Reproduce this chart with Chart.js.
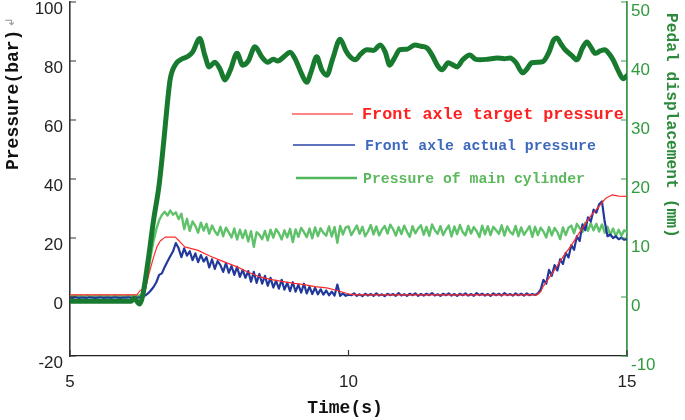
<!DOCTYPE html>
<html>
<head>
<meta charset="utf-8">
<script src="https://cdn.jsdelivr.net/npm/chart.js@4.4.1/dist/chart.umd.min.js"></script>
<style>
  html, body { margin: 0; padding: 0; background: #fff; }
</style>
</head>
<body>
<canvas id="chart" width="685" height="420"></canvas>
<script>
'use strict';

// sampling grid of the two measured pressure traces (s), one row = 0.5 s
const sampleTime = [
  5.00, 5.05, 5.10, 5.15, 5.20, 5.25, 5.30, 5.35, 5.40, 5.45,
  5.50, 5.55, 5.60, 5.65, 5.70, 5.75, 5.80, 5.85, 5.90, 5.95,
  6.00, 6.05, 6.10, 6.15, 6.20, 6.25, 6.30, 6.35, 6.40, 6.45,
  6.50, 6.55, 6.60, 6.65, 6.70, 6.75, 6.80, 6.85, 6.90, 6.95,
  7.00, 7.05, 7.10, 7.15, 7.20, 7.25, 7.30, 7.35, 7.40, 7.45,
  7.50, 7.55, 7.60, 7.65, 7.70, 7.75, 7.80, 7.85, 7.90, 7.95,
  8.00, 8.05, 8.10, 8.15, 8.20, 8.25, 8.30, 8.35, 8.40, 8.45,
  8.50, 8.55, 8.60, 8.65, 8.70, 8.75, 8.80, 8.85, 8.90, 8.95,
  9.00, 9.05, 9.10, 9.15, 9.20, 9.25, 9.30, 9.35, 9.40, 9.45,
  9.50, 9.55, 9.60, 9.65, 9.70, 9.75, 9.80, 9.85, 9.90, 9.95,
  10.00, 10.05, 10.10, 10.15, 10.20, 10.25, 10.30, 10.35, 10.40, 10.45,
  10.50, 10.55, 10.60, 10.65, 10.70, 10.75, 10.80, 10.85, 10.90, 10.95,
  11.00, 11.05, 11.10, 11.15, 11.20, 11.25, 11.30, 11.35, 11.40, 11.45,
  11.50, 11.55, 11.60, 11.65, 11.70, 11.75, 11.80, 11.85, 11.90, 11.95,
  12.00, 12.05, 12.10, 12.15, 12.20, 12.25, 12.30, 12.35, 12.40, 12.45,
  12.50, 12.55, 12.60, 12.65, 12.70, 12.75, 12.80, 12.85, 12.90, 12.95,
  13.00, 13.05, 13.10, 13.15, 13.20, 13.25, 13.30, 13.35, 13.40, 13.45,
  13.50, 13.55, 13.60, 13.65, 13.70, 13.75, 13.80, 13.85, 13.90, 13.95,
  14.00, 14.05, 14.10, 14.15, 14.20, 14.25, 14.30, 14.35, 14.40, 14.45,
  14.50, 14.55, 14.60, 14.65, 14.70, 14.75, 14.80, 14.85, 14.90, 14.95,
  15.00,
];

// front axle actual pressure (bar)
const actualPressure = [
  -0.2, -0.3, -0.1, -0.3, -0.2, -0.2, -0.3, -0.1, -0.2, -0.3,
  -0.2, -0.1, -0.3, -0.2, -0.2, -0.3, -0.1, -0.2, -0.3, -0.2,
  -0.2, -0.1, -0.3, -0.2, -0.2, -0.1, 0.2, 0.5, 1.2, 2.2,
  3.4, 5.0, 7.5, 8.0, 10.2, 12.0, 13.8, 15.5, 18.3, 16.5,
  13.5, 16.5, 14.0, 15.5, 12.5, 14.8, 11.8, 14.2, 12.0, 13.5,
  10.0, 12.8, 9.5, 12.2, 10.8, 8.5, 11.5, 8.2, 10.5, 7.5,
  10.2, 6.8, 9.2, 6.5, 8.8, 5.2, 8.5, 4.8, 7.8, 4.5,
  7.2, 3.8, 6.5, 3.2, 5.5, 2.8, 5.8, 2.5, 4.8, 2.0,
  5.0, 1.8, 4.2, 1.5, 4.5, 1.2, 3.5, 1.0, 3.2, 0.9,
  2.6, 0.8, 2.2, 0.6, 1.8, 0.5, 4.2, 0.4, 1.2, 0.4,
  0.8, 0.6, 1.2, 0.4, 0.9, 0.3, 1.1, 0.5, 1.0, 0.4,
  1.2, 0.5, 0.9, 0.3, 1.1, 0.6, 1.0, 0.4, 1.3, 0.5,
  0.9, 0.4, 1.1, 0.6, 1.2, 0.4, 1.0, 0.5, 1.1, 0.6,
  1.3, 0.5, 0.9, 0.4, 1.1, 0.6, 1.2, 0.5, 1.0, 0.4,
  1.1, 0.6, 1.2, 0.5, 1.0, 0.4, 1.3, 0.6, 1.1, 0.5,
  1.0, 0.4, 1.2, 0.6, 1.1, 0.5, 1.3, 0.6, 1.0, 0.5,
  1.2, 0.6, 1.1, 0.5, 1.2, 0.6, 1.0, 0.7, 1.2, 2.5,
  5.8, 4.5, 9.2, 7.2, 10.8, 9.0, 12.8, 11.2, 15.0, 13.4,
  17.6, 16.0, 20.6, 19.0, 24.6, 22.6, 27.0, 25.6, 29.6, 28.6,
  31.4, 32.4, 25.5, 20.6, 21.2, 20.0, 20.6, 19.6, 20.1, 19.4,
  19.6,
];

// pressure of main cylinder (bar)
const cylinderPressure = [
  0.5, 0.2, 0.6, 0.3, 0.5, 0.1, 0.6, 0.4, 0.2, 0.5,
  0.3, 0.6, 0.2, 0.5, 0.4, 0.1, 0.6, 0.3, 0.5, 0.2,
  0.4, 0.6, 0.3, 0.5, 0.2, 0.6, 1.0, 3.0, 8.0, 14.0,
  19.0, 23.0, 26.0, 27.8, 28.9, 27.6, 29.3, 27.9, 28.7, 26.4,
  28.2, 23.0, 26.5, 22.4, 25.6, 24.1, 21.8, 25.2, 22.5, 24.8,
  21.5, 24.2, 22.3, 21.0, 23.8, 20.6, 23.5, 21.9, 20.2, 23.2,
  19.5, 22.8, 20.0, 22.6, 18.8, 22.3, 17.0, 22.0, 21.1, 19.6,
  22.4, 19.2, 22.8, 20.1, 23.0, 21.6, 19.5, 22.6, 20.2, 23.1,
  18.6, 22.9, 20.4, 23.4, 22.0, 20.3, 23.2, 19.9, 23.6, 20.6,
  23.3, 21.7, 20.8, 23.9, 20.5, 23.7, 18.4, 24.1, 21.2, 23.6,
  23.9, 21.0, 22.6, 24.2, 21.4, 23.8, 20.6, 22.2, 24.4, 21.2,
  23.9, 20.9, 22.8, 24.1, 21.5, 24.5, 23.0, 20.8, 23.7, 21.3,
  24.2, 22.1, 20.4, 24.0, 21.6, 23.2, 24.3, 21.1, 23.8, 20.7,
  24.6, 22.6, 21.4, 24.0, 21.0, 22.8, 24.2, 20.5, 23.9, 21.3,
  24.4, 22.0, 20.9, 24.1, 21.5, 23.7, 22.4, 20.3, 24.2, 21.2,
  24.0, 21.0, 23.8, 22.6, 21.4, 24.3, 20.8, 23.9, 22.1, 21.2,
  24.1, 20.6, 23.6, 21.1, 22.5, 24.0, 20.4, 23.8, 21.0, 23.5,
  22.2, 20.2, 23.7, 20.9, 23.4, 22.0, 19.6, 23.6, 21.0, 23.5,
  24.2, 21.6, 24.8, 23.4, 22.0, 25.2, 22.4, 25.0, 22.6, 24.8,
  22.2, 24.6, 21.8, 23.8, 21.0, 23.2, 20.6, 22.8, 20.8, 22.6,
  22.0,
];

// front axle target pressure (bar)
const targetTime = [
  5.0, 6.2, 6.26, 6.32, 6.36, 6.42, 6.5, 6.56, 6.62, 6.71,
  6.89, 6.97, 7.06, 7.3, 7.5, 7.69, 7.85, 8.0, 8.2, 8.41,
  8.6, 8.8, 9.0, 9.2, 9.4, 9.61, 9.8, 10.0, 10.15, 13.38,
  13.45, 13.49, 13.6, 13.7, 13.85, 14.0, 14.21, 14.35, 14.52, 14.62,
  14.73, 14.85, 15.0,
];
const targetPressure = [
  0.7, 0.7, 2.2, 2.8, 3, 8, 13.5, 17, 19, 20.3,
  20.3, 18.8, 17, 15.8, 14, 12.5, 11.3, 10.2, 8.4, 6.8,
  6, 5.3, 4.7, 4.2, 3.5, 3.1, 2.2, 1.0, 0.7, 0.7,
  1.8, 3.4, 6.5, 9.2, 13.6, 17.5, 23.7, 27.5, 31.2, 33.5,
  34.6, 34.2, 34.1,
];

// pedal displacement (mm), right axis
const pedalTime = [
  5.0, 6.1, 6.15, 6.25, 6.3, 6.4, 6.5, 6.6, 6.7, 6.75,
  6.8, 6.9, 7.0, 7.12, 7.2, 7.33, 7.42, 7.5, 7.6, 7.7,
  7.78, 7.88, 8.0, 8.1, 8.2, 8.32, 8.45, 8.55, 8.65, 8.73,
  8.85, 8.95, 9.05, 9.15, 9.25, 9.33, 9.43, 9.52, 9.61, 9.72,
  9.85, 9.95, 10.03, 10.12, 10.22, 10.33, 10.45, 10.57, 10.66, 10.74,
  10.82, 10.92, 11.05, 11.19, 11.3, 11.41, 11.5, 11.6, 11.68, 11.79,
  11.88, 11.95, 12.05, 12.18, 12.28, 12.36, 12.5, 12.67, 12.8, 12.9,
  13.0, 13.13, 13.2, 13.29, 13.4, 13.49, 13.6, 13.68, 13.74, 13.82,
  13.89, 14.0, 14.1, 14.2, 14.28, 14.36, 14.43, 14.52, 14.6, 14.68,
  14.75, 14.85, 14.93, 15.0,
];
const pedalDisp = [
  -0.7, -0.7, -0.2, -1.2, 0, 6, 13, 19, 28, 33,
  37, 39.5, 40.3, 40.8, 41.5, 43.8, 41, 39, 39.8, 38.5,
  36.8, 38.5, 41.3, 39.3, 40, 42.4, 40.6, 39.8, 40.3, 40.0,
  40.8, 41.5, 40.2, 38, 36.4, 38.2, 40.7, 38.5, 37.6, 40.5,
  43.7, 41.8, 40.7, 40.2, 41.2, 41.9, 41.8, 42.7, 41.5, 39.3,
  40.4, 41.9, 42.0, 42.7, 42.5, 42.2, 41, 39.2, 38.5, 39.7,
  39.3, 39.0, 40.2, 41.0, 40.3, 40.2, 40.3, 40.5, 40.4, 40.5,
  39.8, 38.0, 38.6, 39.7, 39.8, 39.9, 41.5, 43.5, 43.9, 42.8,
  41.9, 41.0, 40.2, 42.2, 43.2, 42.2, 41.3, 41.7, 41.9, 41.2,
  40.2, 38.2, 37, 37.5,
];

const xTicks = [5, 10, 15];
const pressureTicks = [-20, 0, 20, 40, 60, 80, 100];
const pedalTicks = [-10, 0, 10, 20, 30, 40, 50];
const legendLabels = [
  'Front axle target pressure',
  'Front axle actual pressure',
  'Pressure of main cylinder',
];

const ctx = document.getElementById('chart').getContext('2d');
const tickFont = { family: '"Liberation Sans", Arial, sans-serif', size: 17 };
const monoBold = size => `bold ${size}px "Liberation Mono", "Courier New", monospace`;

const toPoints = (xs, ys) => xs.map((x, i) => ({ x, y: ys[i] }));
const fixTicks = values => axis => {
  axis.ticks = values.map(value => ({ value }));
};

// inward tick marks, in-plot legend and axis titles
const decorations = {
  id: 'decorations',
  afterDraw(chart) {
    const { ctx, chartArea: area, scales } = chart;
    ctx.save();

    ctx.lineWidth = 1.2;
    ctx.strokeStyle = '#333';
    ctx.beginPath();
    scales.y.ticks.forEach(t => {
      const py = scales.y.getPixelForValue(t.value);
      ctx.moveTo(area.left, py);
      ctx.lineTo(area.left + 6, py);
    });
    scales.x.ticks.forEach(t => {
      const px = scales.x.getPixelForValue(t.value);
      ctx.moveTo(px, area.bottom);
      ctx.lineTo(px, area.bottom - 6);
    });
    ctx.stroke();

    ctx.strokeStyle = '#3b9a4a';
    ctx.beginPath();
    scales.y1.ticks.forEach(t => {
      const py = scales.y1.getPixelForValue(t.value);
      ctx.moveTo(area.right, py);
      ctx.lineTo(area.right - 6, py);
    });
    ctx.stroke();

    // legend, one row per pressure trace
    const rows = [
      { line: [292, 353], text: 362, y: 114, size: 16.8, width: 1.5, stroke: '#ff5a5a', color: '#ff2020' },
      { line: [293, 355], text: 365, y: 145, size: 14.8, width: 1.5, stroke: '#2a45a8', color: '#3c68bd' },
      { line: [296, 357], text: 363, y: 178, size: 14.8, width: 2.5, stroke: '#4fb85c', color: '#5cb85c' },
    ];
    ctx.textBaseline = 'middle';
    ctx.textAlign = 'left';
    rows.forEach((row, i) => {
      ctx.strokeStyle = row.stroke;
      ctx.lineWidth = row.width;
      ctx.beginPath();
      ctx.moveTo(row.line[0], row.y);
      ctx.lineTo(row.line[1], row.y);
      ctx.stroke();
      ctx.fillStyle = row.color;
      ctx.font = monoBold(row.size);
      ctx.fillText(legendLabels[i], row.text, row.y + 1);
    });

    // left title
    ctx.save();
    ctx.translate(13, 170);
    ctx.rotate(-Math.PI / 2);
    ctx.fillStyle = '#111';
    ctx.font = monoBold(18);
    ctx.fillText('Pressure(bar)', 0, 0);
    const w = ctx.measureText('Pressure(bar)').width;
    ctx.fillStyle = '#999';
    ctx.font = '12px "DejaVu Sans"';
    ctx.fillText('↲', w + 2, -2);
    ctx.restore();

    // right title
    ctx.save();
    ctx.translate(671, 13);
    ctx.rotate(Math.PI / 2);
    ctx.fillStyle = '#2d8a3c';
    ctx.font = monoBold(16.3);
    ctx.fillText('Pedal displacement (mm)', 0, 0);
    ctx.restore();

    // bottom title
    ctx.fillStyle = '#111';
    ctx.font = monoBold(18);
    ctx.textAlign = 'center';
    ctx.fillText('Time(s)', 345, 408);

    ctx.restore();
  },
};

new Chart(ctx, {
  type: 'line',
  data: {
    datasets: [
      {
        label: 'Pedal displacement',
        data: toPoints(pedalTime, pedalDisp),
        yAxisID: 'y1',
        borderColor: '#187a2f',
        borderWidth: 5,
        cubicInterpolationMode: 'monotone',
      },
      {
        label: legendLabels[0],
        data: toPoints(targetTime, targetPressure),
        yAxisID: 'y',
        borderColor: '#ff2b2b',
        borderWidth: 1.2,
      },
      {
        label: legendLabels[1],
        data: toPoints(sampleTime, actualPressure),
        yAxisID: 'y',
        borderColor: '#22399c',
        borderWidth: 2.2,
      },
      {
        label: legendLabels[2],
        data: toPoints(sampleTime, cylinderPressure),
        yAxisID: 'y',
        borderColor: '#5fc26a',
        borderWidth: 2.4,
      },
    ],
  },
  options: {
    responsive: false,
    animation: false,
    events: [],
    elements: {
      point: { radius: 0 },
      line: { tension: 0, borderJoinStyle: 'round', borderCapStyle: 'round' },
    },
    layout: { padding: { top: 2 } },
    plugins: {
      legend: { display: false },
      tooltip: { enabled: false },
    },
    scales: {
      x: {
        type: 'linear',
        min: 5,
        max: 15,
        afterBuildTicks: fixTicks(xTicks),
        afterFit: s => {
          s.height = 64;
          s.paddingLeft = 0;
          s.paddingRight = 0;
        },
        grid: { drawOnChartArea: false, drawTicks: false },
        border: { color: '#222', width: 1.2 },
        ticks: { color: '#222', font: tickFont, padding: 16, maxRotation: 0 },
      },
      y: {
        position: 'left',
        min: -20,
        max: 100,
        afterBuildTicks: fixTicks(pressureTicks),
        afterFit: s => {
          s.width = 70;
          s.paddingTop = 0;
          s.paddingBottom = 0;
        },
        grid: { drawOnChartArea: false, drawTicks: false },
        border: { color: '#333', width: 1.6 },
        ticks: { color: '#222', font: tickFont, padding: 7, labelOffset: 7 },
      },
      y1: {
        position: 'right',
        min: -10,
        max: 50,
        afterBuildTicks: fixTicks(pedalTicks),
        afterFit: s => {
          s.width = 58;
          s.paddingTop = 0;
          s.paddingBottom = 0;
        },
        grid: { drawOnChartArea: false, drawTicks: false },
        border: { color: '#3b9a4a', width: 1.8 },
        ticks: { color: '#2f9a3e', font: tickFont, padding: 4, labelOffset: 9 },
      },
    },
  },
  plugins: [decorations],
});
</script>
</body>
</html>
